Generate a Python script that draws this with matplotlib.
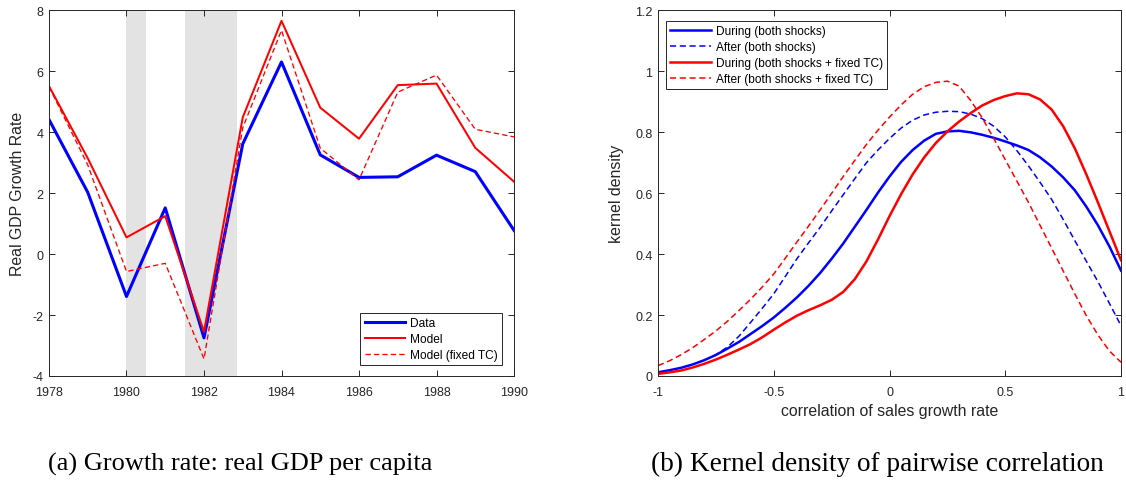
import numpy as np
import matplotlib
matplotlib.use("Agg")
import matplotlib.pyplot as plt

# (a) growth rate of real GDP per capita, percent
years = [1978, 1979, 1980, 1981, 1982, 1983, 1984, 1985, 1986, 1987, 1988, 1989, 1990]
gdp_data = [4.42, 2.03, -1.39, 1.52, -2.75, 3.62, 6.31, 3.26, 2.52, 2.54, 3.25, 2.71, 0.78]
gdp_model = [5.52, 3.15, 0.55, 1.25, -2.55, 4.49, 7.66, 4.81, 3.79, 5.55, 5.60, 3.49, 2.38]
gdp_model_fixed_tc = [5.50, 2.93, -0.57, -0.30, -3.44, 4.15, 7.35, 3.48, 2.44, 5.32, 5.88, 4.10, 3.85]

# NBER recessions
recession_start = [1980.0, 1981.5]
recession_end = [1980.5, 1982.85]

# (b) kernel densities of pairwise correlation of sales growth
corr_grid = [-1.00, -0.95, -0.90, -0.85, -0.80, -0.75, -0.70, -0.65, -0.60, -0.55,
             -0.50, -0.45, -0.40, -0.35, -0.30, -0.25, -0.20, -0.15, -0.10, -0.05,
             0.00, 0.05, 0.10, 0.15, 0.20, 0.25, 0.30, 0.35, 0.40, 0.45,
             0.50, 0.55, 0.60, 0.65, 0.70, 0.75, 0.80, 0.85, 0.90, 0.95, 1.00]
dens_during = [0.012, 0.019, 0.027, 0.038, 0.052, 0.069, 0.090, 0.112, 0.138, 0.164,
               0.192, 0.224, 0.258, 0.296, 0.338, 0.385, 0.435, 0.490, 0.545, 0.602,
               0.655, 0.703, 0.742, 0.773, 0.795, 0.803, 0.805, 0.800, 0.792, 0.782,
               0.770, 0.757, 0.742, 0.718, 0.688, 0.652, 0.610, 0.556, 0.495, 0.425, 0.346]
dens_after = [np.nan, np.nan, np.nan, np.nan, 0.052, 0.070, 0.095, 0.131, 0.176, 0.222,
              0.270, 0.327, 0.385, 0.437, 0.488, 0.542, 0.595, 0.648, 0.700, 0.742,
              0.780, 0.814, 0.840, 0.857, 0.866, 0.869, 0.868, 0.860, 0.845, 0.820,
              0.785, 0.740, 0.690, 0.636, 0.580, 0.514, 0.445, 0.377, 0.310, 0.238, 0.165]
dens_during_tc = [0.007, 0.012, 0.018, 0.028, 0.040, 0.054, 0.070, 0.087, 0.105, 0.127,
                  0.152, 0.176, 0.198, 0.216, 0.232, 0.250, 0.276, 0.318, 0.376, 0.448,
                  0.525, 0.597, 0.662, 0.718, 0.765, 0.803, 0.835, 0.863, 0.888, 0.906,
                  0.919, 0.928, 0.925, 0.908, 0.875, 0.820, 0.748, 0.662, 0.570, 0.475, 0.380]
dens_after_tc = [0.034, 0.050, 0.070, 0.093, 0.120, 0.148, 0.180, 0.215, 0.252, 0.292,
                 0.335, 0.387, 0.440, 0.492, 0.545, 0.600, 0.655, 0.708, 0.760, 0.807,
                 0.850, 0.890, 0.925, 0.950, 0.964, 0.968, 0.952, 0.905, 0.848, 0.780,
                 0.710, 0.640, 0.570, 0.495, 0.420, 0.345, 0.270, 0.198, 0.135, 0.082, 0.045]

GREY = (0.15, 0.15, 0.15)
DASH = (4, 2.4)

plt.rcParams["font.family"] = ["Liberation Sans", "DejaVu Sans"]
plt.rcParams["axes.unicode_minus"] = False


def style_axis(axis):
    """MATLAB-like box axes with inward ticks."""
    for spine in axis.spines.values():
        spine.set_color(GREY)
        spine.set_linewidth(0.7)
    axis.tick_params(direction="in", length=4, width=0.7, colors=GREY,
                     labelsize=9, top=True, right=True)
    axis.tick_params(axis="x", pad=7)
    axis.tick_params(axis="y", pad=4)


def add_legend(axis, **kw):
    leg = axis.legend(borderaxespad=0, fontsize=8.6, handlelength=3.4, handletextpad=0.4,
                      labelspacing=0.34, fancybox=False, framealpha=1, edgecolor=GREY,
                      borderpad=0.35, **kw)
    leg.get_frame().set_linewidth(0.7)


fig = plt.figure(figsize=(11.26, 4.85), dpi=100)

# (a) growth rate
ax1 = fig.add_axes([0.0435, 0.2227, 0.413, 0.7536])
for start, end in zip(recession_start, recession_end):
    ax1.axvspan(start, end, color="#e3e3e3", lw=0, zorder=0)
ax1.plot(years, gdp_data, color="b", lw=2.2, label="Data")
ax1.plot(years, gdp_model, color="r", lw=1.45, label="Model")
ax1.plot(years, gdp_model_fixed_tc, color="r", lw=0.95, dashes=DASH, label="Model (fixed TC)")
ax1.set_xlim(1978, 1990)
ax1.set_ylim(-4, 8)
ax1.set_xticks(range(1978, 1991, 2))
ax1.set_yticks(range(-4, 9, 2))
ax1.set_ylabel("Real GDP Growth Rate", fontsize=11.4, color=GREY)
ax1.yaxis.set_label_coords(-0.052, 0.5)
style_axis(ax1)
add_legend(ax1, loc="lower right", bbox_to_anchor=(0.974, 0.03))

# (b) kernel density
ax2 = fig.add_axes([0.5844, 0.2227, 0.4112, 0.7536])
ax2.plot(corr_grid, dens_during, color="b", lw=1.8, label="During (both shocks)")
ax2.plot(corr_grid, dens_after, color="b", lw=1.1, dashes=DASH, label="After (both shocks)")
ax2.plot(corr_grid, dens_during_tc, color="r", lw=1.8, label="During (both shocks + fixed TC)")
ax2.plot(corr_grid, dens_after_tc, color="r", lw=1.1, dashes=DASH, label="After (both shocks + fixed TC)")
ax2.set_xlim(-1, 1)
ax2.set_ylim(0, 1.2)
ax2.set_xticks([-1, -0.5, 0, 0.5, 1])
ax2.set_xticklabels(["-1", "-0.5", "0", "0.5", "1"])
ax2.set_yticks([0, 0.2, 0.4, 0.6, 0.8, 1.0, 1.2])
ax2.set_yticklabels(["0", "0.2", "0.4", "0.6", "0.8", "1", "1.2"])
ax2.set_xlabel("correlation of sales growth rate", fontsize=11.4, color=GREY)
ax2.set_ylabel("kernel density", fontsize=11.4, color=GREY)
ax2.xaxis.set_label_coords(0.5, -0.075)
ax2.yaxis.set_label_coords(-0.073, 0.5)
style_axis(ax2)
add_legend(ax2, loc="upper left", bbox_to_anchor=(0.0173, 0.9726))

# sub-captions
fig.text(0.213, 0.042, "(a) Growth rate: real GDP per capita", ha="center", va="center",
         fontsize=19, family=["Liberation Serif", "DejaVu Serif"])
fig.text(0.779, 0.042, "(b) Kernel density of pairwise correlation", ha="center", va="center",
         fontsize=19.6, family=["Liberation Serif", "DejaVu Serif"])

fig.savefig("out.png", dpi=100)
